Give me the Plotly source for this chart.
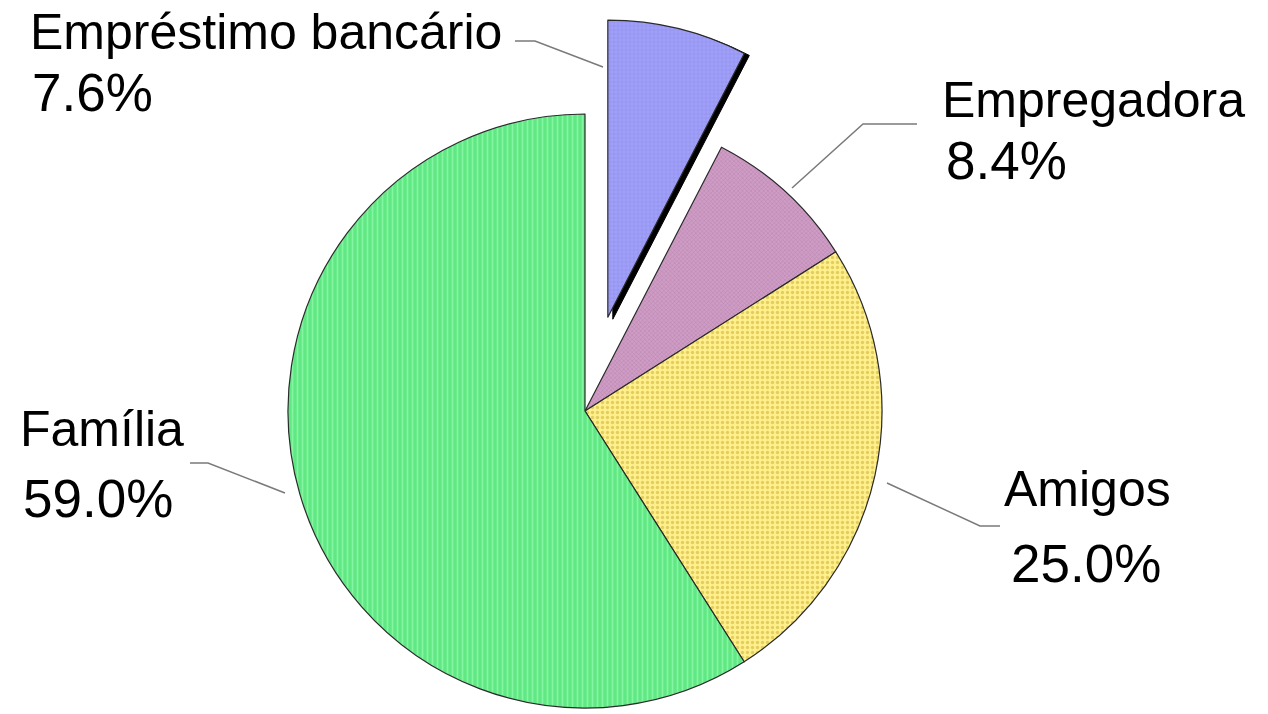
import math
import plotly.graph_objects as go

# ---------------- data ----------------
categories = ["Empréstimo bancário", "Empregadora", "Amigos", "Família"]
values = [7.6, 8.4, 25.0, 59.0]
pct_labels = ["7.6%", "8.4%", "25.0%", "59.0%"]

# ---------------- styles ----------------
W, H = 1268, 714
CX, CY, R = 585, 411, 297          # pie centre / radius in px
PULL = 0.325                        # pull of the first slice (fraction of R)
SHADOW_DX, SHADOW_DY = 5, 2

base_colors = ["#a0a0f8", "#cf9cc6", "#fff08c", "#5fe883"]
fg_colors = ["#8c8ceb", "#b883ad", "#e3cd5f", "#84f5a0"]
pat_shapes = ["+", "x", ".", "|"]
pat_sizes = [4, 3, 5, 5]
pat_solid = [0.25, 0.3, 0.35, 0.35]
TRANSP = "rgba(0,0,0,0)"


def domain_for(cx, cy, r):
    return dict(x=[(cx - r) / W, (cx + r) / W],
                y=[(H - cy - r) / H, (H - cy + r) / H])


# offset of pulled slice from its mid-angle
mid = 360 * (values[0] / sum(values)) / 2
ang = math.radians(mid)
off = PULL * R
PX, PY = CX + off * math.sin(ang), CY - off * math.cos(ang)

fig = go.Figure()

# main pie (first slice hidden)
fig.add_trace(go.Pie(
    labels=categories, values=values, sort=False, direction="clockwise", rotation=0,
    textinfo="none", hoverinfo="skip", showlegend=False,
    domain=domain_for(CX, CY, R),
    marker=dict(
        colors=[TRANSP] + base_colors[1:],
        line=dict(color="#2a2a2a", width=[0, 1.2, 1.2, 1.2]),
        pattern=dict(shape=[""] + pat_shapes[1:], fgcolor=[TRANSP] + fg_colors[1:],
                     bgcolor=[TRANSP] + base_colors[1:], size=pat_sizes,
                     solidity=pat_solid, fillmode="replace"),
    ),
))

# shadow of pulled slice
fig.add_trace(go.Pie(
    labels=categories, values=values, sort=False, direction="clockwise", rotation=0,
    textinfo="none", hoverinfo="skip", showlegend=False,
    domain=domain_for(PX + SHADOW_DX, PY + SHADOW_DY, R),
    marker=dict(colors=["#000000", TRANSP, TRANSP, TRANSP],
                line=dict(color="#000000", width=[1, 0, 0, 0])),
))

# pulled slice
fig.add_trace(go.Pie(
    labels=categories, values=values, sort=False, direction="clockwise", rotation=0,
    textinfo="none", hoverinfo="skip", showlegend=False,
    domain=domain_for(PX, PY, R),
    marker=dict(
        colors=[base_colors[0], TRANSP, TRANSP, TRANSP],
        line=dict(color="#2a2a2a", width=[1.2, 0, 0, 0]),
        pattern=dict(shape=[pat_shapes[0], "", "", ""],
                     fgcolor=[fg_colors[0], TRANSP, TRANSP, TRANSP],
                     bgcolor=[base_colors[0], TRANSP, TRANSP, TRANSP],
                     size=pat_sizes, solidity=pat_solid, fillmode="replace"),
    ),
))

# ---------------- labels ----------------
FONT = "Liberation Sans, Arial, sans-serif"
NAME_FS, PCT_FS = 50, 53
# (name_left, name_center_y, pct_left, pct_center_y)
label_pos = [
    (28, 32, 30, 93),
    (940, 100, 944, 161),
    (1002, 489, 1009, 563),
    (18, 429, 21, 498),
]
annotations = []
for cat, pct, (nx, ny, px_, py_) in zip(categories, pct_labels, label_pos):
    annotations.append(dict(x=nx / W, y=1 - ny / H, xref="paper", yref="paper",
                            text=cat, showarrow=False, xanchor="left", yanchor="middle",
                            font=dict(family=FONT, size=NAME_FS, color="#000000")))
    annotations.append(dict(x=px_ / W, y=1 - py_ / H, xref="paper", yref="paper",
                            text=pct, showarrow=False, xanchor="left", yanchor="middle",
                            font=dict(family=FONT, size=PCT_FS, color="#000000")))

leaders = [
    [(515, 41), (535, 41), (603, 67)],
    [(917, 124), (863, 124), (792, 188)],
    [(1000, 526), (980, 526), (887, 483)],
    [(190, 463), (208, 463), (285, 493)],
]
shapes = []
for pts in leaders:
    path = "M " + " L ".join(f"{x / W:.5f},{1 - y / H:.5f}" for x, y in pts)
    shapes.append(dict(type="path", xref="paper", yref="paper", path=path,
                       line=dict(color="#7a7a7a", width=1.5)))

fig.update_layout(
    width=W, height=H, margin=dict(l=0, r=0, t=0, b=0),
    paper_bgcolor="white", plot_bgcolor="white",
    annotations=annotations, shapes=shapes,
)

fig.write_html("out.html")
